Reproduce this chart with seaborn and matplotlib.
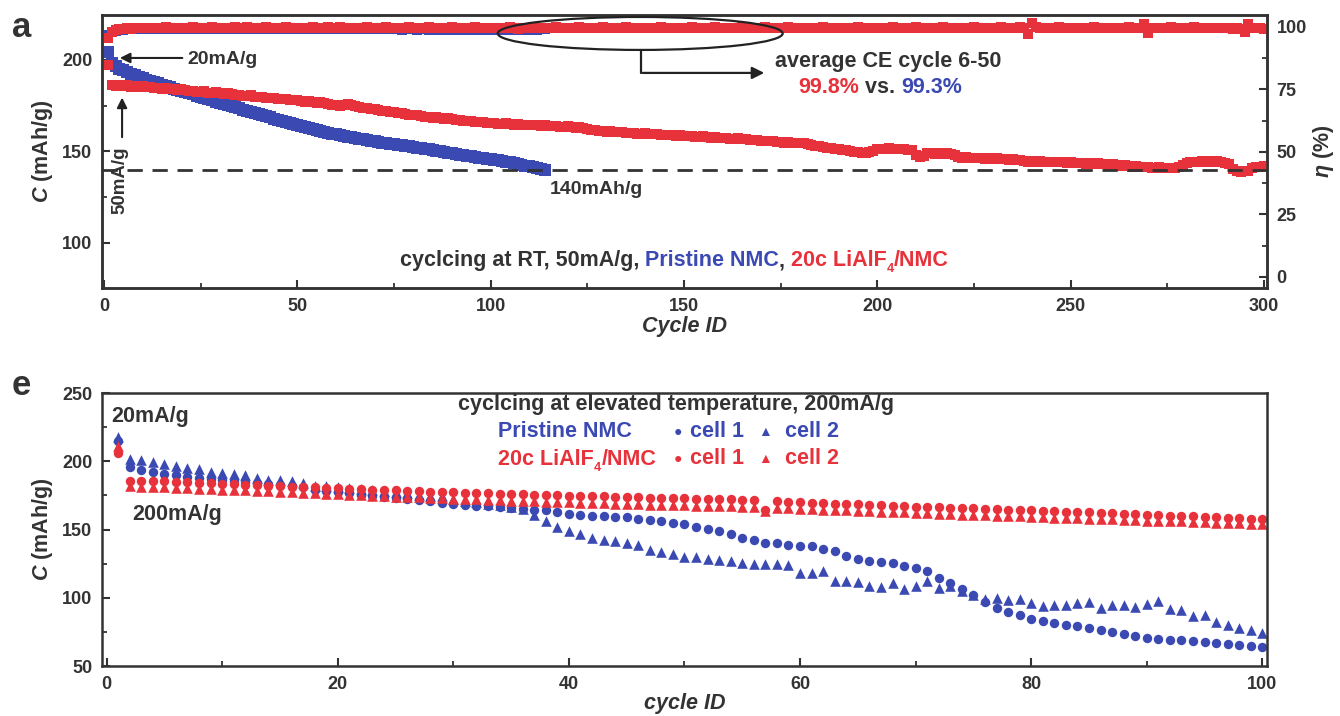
import numpy as np
import pandas as pd
import matplotlib
matplotlib.use('Agg')
import matplotlib.pyplot as plt
import seaborn as sns
from matplotlib.patches import Ellipse

# --- data ---
# panel a: capacity (mAh/g) and coulombic efficiency (%) per cycle
red_cap = [
    197.0, 186.2, 185.8, 186.4, 185.9, 186.1, 185.5, 185.9, 185.3, 185.6,
    185.0, 185.3, 184.7, 184.9, 184.4, 184.6, 184.0, 184.3, 183.7, 183.9,
    183.4, 183.0, 183.3, 182.7, 182.5, 182.8, 182.2, 182.0, 182.3, 181.7,
    181.5, 181.8, 181.2, 180.9, 181.1, 180.5, 180.3, 180.6, 180.0, 179.8,
    180.0, 179.4, 179.1, 179.3, 178.7, 178.5, 178.8, 178.2, 178.0, 178.1,
    177.6, 177.3, 177.5, 176.9, 176.7, 176.9, 176.3, 176.0, 175.6, 175.2,
    174.9, 175.5, 175.8, 175.3, 175.0, 174.4, 173.9, 173.7, 173.3, 173.0,
    172.8, 172.3, 172.0, 171.8, 171.4, 171.1, 170.9, 170.5, 170.2, 170.0,
    169.7, 169.3, 169.1, 168.8, 168.4, 168.7, 168.2, 167.9, 168.1, 167.6,
    167.3, 167.0, 166.8, 166.5, 166.7, 166.2, 165.9, 166.1, 165.6, 165.4,
    165.7, 165.2, 165.0, 165.3, 164.8, 164.6, 164.9, 164.5, 164.3, 164.6,
    164.2, 164.4, 164.0, 164.3, 164.1, 163.8, 164.0, 163.6, 163.4, 163.7,
    163.3, 163.0, 163.2, 162.8, 162.3, 161.8, 161.5, 161.2, 161.0, 160.8,
    161.0, 160.6, 160.4, 160.7, 160.2, 160.0, 160.3, 159.8, 159.6, 159.9,
    159.5, 159.3, 159.6, 159.1, 158.9, 159.2, 158.8, 158.6, 158.9, 158.5,
    158.3, 158.6, 158.1, 157.9, 158.2, 157.8, 157.6, 157.9, 157.4, 157.2,
    157.5, 157.0, 156.8, 157.1, 156.6, 156.9, 156.4, 156.2, 156.0, 155.8,
    155.9, 155.5, 155.7, 155.2, 155.4, 154.9, 155.1, 154.6, 154.8, 154.4,
    154.6, 154.1, 153.7, 153.2, 152.8, 152.4, 152.0, 151.7, 151.4, 151.1,
    150.8, 150.6, 150.2, 149.8, 149.5, 149.2, 149.0, 149.6, 150.4, 151.2,
    151.6, 151.4, 151.7, 151.3, 151.5, 151.1, 151.4, 151.0, 150.6, 148.0,
    147.2, 147.5, 148.9, 149.2, 148.8, 149.1, 148.7, 149.0, 148.5, 148.2,
    147.0, 146.6, 146.8, 146.3, 146.5, 146.2, 146.6, 146.1, 146.4, 145.9,
    146.2, 145.8, 146.0, 145.6, 145.9, 145.5, 145.2, 144.8, 144.5, 144.7,
    144.3, 144.6, 144.2, 144.5, 144.1, 144.4, 144.0, 144.3, 143.9, 144.2,
    143.8, 143.5, 143.8, 143.4, 143.7, 143.3, 143.6, 143.2, 143.0, 142.7,
    142.9, 142.5, 142.2, 142.4, 142.0, 141.7, 141.9, 141.5, 141.3, 141.6,
    141.2, 141.0, 141.3, 140.9, 141.1, 140.8, 141.0, 141.4, 142.8, 143.6,
    144.2, 144.5, 144.3, 144.6, 144.4, 144.7, 144.5, 144.8, 144.4, 143.6,
    143.4, 140.2, 139.2, 138.9, 139.3, 139.6, 141.0, 141.5, 141.3, 141.8,
]
red_ce = [
    95.5, 97.8, 98.6, 99.0, 99.2, 99.4, 99.3, 99.5, 99.6, 99.4,
    99.5, 99.7, 99.4, 99.6, 99.5, 99.8, 99.5, 99.6, 99.4, 99.7,
    99.6, 99.5, 99.8, 99.4, 99.6, 99.7, 99.5, 99.9, 99.6, 99.5,
    99.7, 99.4, 99.6, 99.8, 99.5, 99.6, 99.9, 99.5, 99.7, 99.4,
    99.6, 99.8, 99.5, 99.7, 99.6, 99.4, 99.8, 99.6, 99.5, 99.7,
    99.5, 99.7, 99.6, 99.9, 99.4, 99.6, 99.5, 99.8, 99.6, 99.5,
    99.8, 99.5, 99.6, 99.4, 99.7, 99.6, 99.5, 99.9, 99.6, 99.7,
    99.4, 99.6, 99.8, 99.5, 99.6, 99.7, 99.4, 99.6, 99.8, 99.5,
    99.6, 99.5, 99.7, 99.9, 99.5, 99.6, 99.4, 99.7, 99.6, 99.8,
    99.5, 99.6, 99.7, 99.4, 99.6, 99.8, 99.5, 99.6, 99.7, 99.5,
    99.7, 99.4, 99.6, 99.5, 99.8, 99.6, 99.0, 99.7, 99.5, 99.6,
    99.8, 99.5, 99.6, 99.7, 99.4, 99.6, 99.8, 99.5, 99.7, 99.6,
    99.5, 99.7, 99.9, 99.6, 99.4, 99.6, 99.7, 99.5, 99.8, 99.6,
    99.4, 99.6, 99.7, 99.5, 99.8, 99.6, 99.5, 99.7, 99.4, 99.6,
    99.7, 99.5, 99.6, 99.8, 99.5, 99.7, 99.6, 99.4, 99.7, 99.5,
    99.6, 99.8, 99.5, 99.6, 99.7, 99.4, 99.6, 99.9, 99.5, 99.6,
    99.7, 99.5, 99.6, 99.4, 99.8, 99.6, 99.5, 99.7, 99.6, 99.5,
    99.8, 99.6, 99.4, 99.7, 99.5, 99.6, 99.8, 99.5, 99.7, 99.6,
    99.5, 99.7, 99.6, 99.4, 99.6, 99.8, 99.5, 99.6, 99.7, 99.5,
    99.6, 99.4, 99.7, 99.5, 99.8, 99.6, 99.5, 99.7, 99.4, 99.6,
    99.7, 99.5, 99.6, 99.8, 99.5, 99.4, 99.7, 99.6, 99.5, 99.8,
    99.6, 99.5, 99.7, 99.4, 99.6, 99.5, 99.8, 99.6, 99.7, 99.5,
    99.4, 99.6, 99.7, 99.5, 99.8, 99.6, 99.5, 99.7, 99.6, 99.4,
    99.6, 99.8, 99.5, 99.7, 99.6, 99.5, 99.8, 99.6, 97.3, 101.4,
    99.8, 99.5, 99.6, 99.7, 99.4, 99.6, 99.8, 99.5, 99.6, 99.7,
    99.5, 99.6, 99.4, 99.7, 99.6, 99.8, 99.5, 99.6, 99.7, 99.5,
    99.6, 99.4, 99.7, 99.5, 99.8, 99.6, 99.5, 99.6, 101.2, 97.6,
    99.5, 99.7, 99.6, 99.4, 99.6, 99.8, 99.5, 99.7, 99.6, 99.5,
    99.6, 99.8, 99.5, 99.7, 99.4, 99.6, 99.5, 99.7, 99.6, 99.4,
    99.5, 99.3, 99.6, 99.2, 98.0, 101.3, 99.6, 99.4, 99.5, 99.3,
]
blue_cap = [
    204.5, 198.2, 196.5, 195.3, 194.3, 193.5, 192.4, 191.6, 190.7, 190.0,
    189.2, 188.6, 187.8, 187.2, 186.4, 185.7, 185.1, 184.4, 183.8, 183.1,
    182.5, 181.8, 181.2, 180.5, 179.8, 179.3, 178.6, 178.0, 177.3, 176.7,
    176.0, 175.4, 174.7, 174.1, 173.5, 172.8, 172.3, 171.6, 171.0, 170.4,
    169.8, 169.2, 168.6, 168.0, 167.3, 166.8, 166.1, 165.5, 164.8, 164.2,
    163.7, 163.1, 162.6, 162.2, 161.6, 161.2, 160.7, 160.3, 159.8, 159.4,
    159.0, 158.6, 158.1, 157.7, 157.3, 157.0, 156.6, 156.2, 155.9, 155.5,
    155.2, 154.9, 154.6, 154.3, 154.0, 153.7, 153.4, 153.0, 152.8, 152.5,
    152.1, 151.8, 151.5, 151.2, 150.8, 150.4, 150.1, 149.7, 149.3, 148.9,
    148.6, 148.2, 147.9, 147.6, 147.3, 147.0, 146.7, 146.4, 146.1, 145.8,
    145.5, 145.2, 144.8, 144.4, 144.0, 143.6, 143.2, 142.7, 142.2, 141.8,
    141.3, 140.8, 140.4, 140.1,
]
blue_ce = [
    96.8, 97.9, 98.4, 98.7, 98.9, 99.0, 99.1, 99.0, 99.2, 99.1,
    99.0, 99.2, 99.1, 99.3, 99.0, 99.2, 99.1, 99.3, 99.2, 99.0,
    99.2, 99.1, 99.3, 99.0, 99.2, 99.1, 99.2, 99.3, 99.1, 99.0,
    99.2, 99.3, 99.1, 99.2, 99.0, 99.1, 99.3, 99.2, 99.1, 99.2,
    99.0, 99.2, 99.1, 99.3, 99.2, 99.0, 99.1, 99.2, 99.3, 99.1,
    99.2, 99.0, 99.1, 99.2, 99.3, 99.1, 99.0, 99.2, 99.1, 99.3,
    99.1, 99.2, 99.0, 99.1, 99.3, 99.2, 99.0, 99.1, 99.2, 99.1,
    99.0, 99.2, 99.1, 99.0, 99.2, 99.1, 98.9, 99.1, 99.0, 99.2,
    98.9, 99.0, 99.1, 98.8, 99.0, 98.9, 99.1, 98.8, 99.0, 98.9,
    98.8, 99.0, 98.9, 98.7, 98.9, 98.8, 99.0, 98.7, 98.9, 98.8,
    98.7, 98.9, 98.8, 98.6, 98.8, 98.9, 98.7, 98.8, 98.6, 98.9,
    98.8, 98.9, 99.0, 99.1,
]

# panel e: elevated temperature, 100 cycles, two cells each
pristine_cell1 = [
    214.5, 195.8, 193.9, 192.2, 190.7, 189.8, 188.6, 187.8, 187.1, 186.6,
    185.9, 185.1, 184.2, 183.4, 182.5, 181.7, 181.0, 179.3, 178.0, 177.3,
    176.8, 175.6, 174.9, 173.9, 173.0, 172.5, 171.5, 170.8, 169.6, 168.8,
    168.0, 167.5, 167.0, 166.6, 165.8, 165.3, 164.6, 164.0, 162.6, 161.7,
    161.0, 160.2, 160.2, 159.3, 159.0, 157.8, 156.8, 156.0, 155.0, 153.7,
    152.0, 150.5, 148.8, 146.4, 144.0, 142.0, 139.8, 139.8, 138.3, 137.8,
    137.8, 135.4, 134.2, 130.5, 128.1, 127.0, 126.2, 125.2, 123.2, 122.0,
    119.6, 114.7, 111.0, 106.2, 101.8, 97.0, 92.8, 89.6, 87.2, 84.8,
    83.0, 81.8, 80.2, 79.4, 78.2, 76.5, 75.0, 73.4, 72.1, 70.2,
    69.7, 69.2, 69.0, 68.0, 67.3, 66.8, 66.0, 65.6, 64.8, 63.6,
]
pristine_cell2 = [
    218.0, 201.8, 201.0, 199.8, 198.0, 196.6, 194.9, 194.2, 192.5, 191.3,
    190.6, 189.6, 187.7, 186.5, 186.0, 185.3, 184.0, 182.1, 181.6, 181.2,
    180.4, 179.7, 178.7, 178.0, 177.3, 176.8, 175.6, 174.9, 174.3, 172.0,
    171.0, 170.0, 169.0, 168.0, 166.5, 165.0, 161.0, 156.0, 152.0, 148.8,
    146.8, 144.0, 142.0, 141.5, 140.3, 138.6, 134.9, 133.5, 131.8, 130.0,
    130.0, 128.5, 128.0, 127.0, 125.5, 125.0, 125.0, 125.0, 124.0, 118.0,
    118.0, 119.6, 112.0, 112.0, 111.5, 108.3, 108.0, 111.0, 106.2, 108.6,
    112.3, 107.4, 108.6, 105.0, 101.8, 98.9, 100.1, 98.4, 98.9, 96.0,
    94.0, 94.5, 94.5, 96.0, 97.0, 92.8, 94.5, 94.5, 93.5, 95.3,
    97.7, 91.6, 90.9, 86.3, 87.2, 82.3, 79.9, 78.2, 76.5, 74.1,
]
coated_cell1 = [
    206.0, 185.5, 185.8, 185.4, 185.2, 184.9, 184.6, 184.3, 184.0, 183.6,
    183.3, 182.9, 182.6, 182.2, 181.9, 181.5, 181.2, 180.9, 180.5, 180.2,
    179.9, 179.6, 179.3, 179.0, 178.7, 178.4, 178.1, 177.8, 177.5, 177.3,
    177.0, 176.8, 176.5, 176.3, 176.0, 175.8, 175.5, 175.3, 175.0, 174.8,
    174.6, 174.4, 174.2, 174.0, 173.8, 173.6, 173.4, 173.2, 173.0, 172.8,
    172.6, 172.4, 172.2, 172.0, 171.8, 171.6, 164.5, 170.8, 170.4, 170.0,
    169.6, 169.3, 169.0, 168.7, 168.4, 168.0, 167.7, 167.4, 167.1, 166.8,
    166.5, 166.2, 166.0, 165.7, 165.4, 165.2, 164.9, 164.6, 164.3, 164.0,
    163.7, 163.4, 163.1, 162.8, 162.5, 162.2, 161.8, 161.5, 161.2, 160.9,
    160.6, 160.2, 159.9, 159.6, 159.3, 159.0, 158.6, 158.3, 158.0, 157.6,
]
coated_cell2 = [
    211.0, 181.6, 181.4, 181.2, 180.9, 180.6, 180.3, 180.0, 179.6, 179.3,
    179.0, 178.6, 178.3, 177.9, 177.6, 177.2, 176.9, 176.5, 176.2, 175.8,
    175.5, 175.1, 174.8, 174.5, 174.1, 173.8, 173.5, 173.2, 172.9, 172.6,
    172.3, 172.0, 171.7, 171.4, 171.2, 170.9, 170.6, 170.4, 170.1, 169.9,
    169.6, 169.4, 169.2, 168.9, 168.7, 168.5, 168.3, 168.1, 167.9, 167.7,
    167.5, 167.3, 167.1, 166.9, 166.7, 166.5, 163.5, 165.8, 165.5, 165.2,
    164.9, 164.6, 164.3, 164.0, 163.7, 163.4, 163.1, 162.8, 162.5, 162.2,
    161.9, 161.6, 161.3, 161.0, 160.7, 160.4, 160.1, 159.8, 159.6, 159.3,
    159.0, 158.7, 158.5, 158.2, 157.9, 157.7, 157.4, 157.1, 156.9, 156.6,
    156.4, 156.1, 155.9, 155.6, 155.4, 155.1, 154.9, 154.6, 154.4, 154.1,
]

RED = '#e8323b'
BLUE = '#3b4ab3'
DARK = '#333333'

sns.set_theme(style='ticks')
plt.rcParams['font.family'] = ['Liberation Sans', 'DejaVu Sans']
plt.rcParams['font.weight'] = 'bold'
plt.rcParams['axes.labelweight'] = 'bold'
plt.rcParams['mathtext.fontset'] = 'custom'
plt.rcParams['mathtext.rm'] = 'Liberation Sans:bold'
plt.rcParams['mathtext.it'] = 'Liberation Sans:bold:italic'
plt.rcParams['mathtext.bf'] = 'Liberation Sans:bold'

df_red = pd.DataFrame({'cycle': np.arange(1, len(red_cap) + 1), 'cap': red_cap, 'ce': red_ce})
df_blue = pd.DataFrame({'cycle': np.arange(1, len(blue_cap) + 1), 'cap': blue_cap, 'ce': blue_ce})
df_e = pd.DataFrame({'cycle': np.arange(1, len(pristine_cell1) + 1),
                     'p1': pristine_cell1, 'p2': pristine_cell2,
                     'c1': coated_cell1, 'c2': coated_cell2})

fig = plt.figure(figsize=(13.4, 7.16), dpi=100)
ax = fig.add_axes([0.0761, 0.5978, 0.8694, 0.3813])
ax_e = fig.add_axes([0.0761, 0.0698, 0.8694, 0.3813])


def rich_text(axis, x, y, pieces, size=15.5):
    # pieces: (text, colour, y offset in points, size factor); drawn one after another on a baseline
    prev = None
    for txt, col, dy, f in pieces:
        kw = dict(textcoords='offset points', xytext=(0, dy), color=col,
                  fontsize=size * f, fontweight='bold', va='baseline', ha='left')
        if prev is None:
            prev = axis.annotate(txt, xy=(x, y), xycoords='data', **kw)
        else:
            prev = axis.annotate(txt, xy=(1, y), xycoords=(prev, 'data'), **kw)
    return prev


# ===== panel a =====
sns.scatterplot(data=df_blue, x='cycle', y='cap', ax=ax, marker='s', s=80,
                color=BLUE, linewidth=0, legend=False, zorder=3)
sns.scatterplot(data=df_red, x='cycle', y='cap', ax=ax, marker='s', s=48,
                color=RED, linewidth=0, legend=False, zorder=4)
ax.axhline(140, color=DARK, lw=2, ls=(0, (5.5, 3.5)), zorder=5)
ax.set_xlim(-0.5, 300.8)
ax.set_ylim(75.4, 224.6)
ax.set_xticks([0, 50, 100, 150, 200, 250, 300])
ax.set_xticks([25, 75, 125, 175, 225, 275], minor=True)
ax.set_yticks([100, 150, 200])
ax.set_yticks([125, 175], minor=True)
ax.set_xlabel('Cycle ID', fontsize=15.5, fontstyle='italic', color=DARK, labelpad=1)
ax.set_ylabel('$C$ (mAh/g)', fontsize=15.5, color=DARK, labelpad=5)

ax2 = ax.twinx()
sns.scatterplot(data=df_blue, x='cycle', y='ce', ax=ax2, marker='s', s=45,
                color=BLUE, linewidth=0, legend=False)
sns.scatterplot(data=df_red, x='cycle', y='ce', ax=ax2, marker='s', s=45,
                color=RED, linewidth=0, legend=False)
ax2.set_ylim(-4.5, 104.8)
ax2.set_yticks([0, 25, 50, 75, 100])
ax2.set_yticks([12.5, 37.5, 62.5, 87.5], minor=True)
ax2.set_ylabel(r'$\eta$ (%)', fontsize=15.5, color=DARK, labelpad=3)
ax2.set_xlabel('')

# ellipse and arrow pointing to the CE note
ax2.add_patch(Ellipse((138.7, 97.4), 73.7, 13.2, fill=False, ec='#222222', lw=1.6, zorder=6))
ax2.plot([139, 139], [90.8, 81.6], color='#222222', lw=1.6)
ax2.annotate('', xy=(171.5, 81.6), xytext=(138.6, 81.6),
             arrowprops=dict(arrowstyle='-|>', color='#222222', lw=1.6, mutation_scale=18))
ax.text(173.5, 196.4, 'average CE cycle 6-50', fontsize=15.5, fontweight='bold',
        color=DARK, va='baseline', ha='left')
rich_text(ax, 179.5, 182.2, [('99.8%', RED, 0, 1), (' vs. ', DARK, 0, 1), ('99.3%', BLUE, 0, 1)])

# rate annotations
ax.annotate('', xy=(3.4, 201.1), xytext=(21.0, 201.1),
            arrowprops=dict(arrowstyle='-|>', color='#222222', lw=1.5, mutation_scale=15))
ax.text(21.7, 200.0, '20mA/g', fontsize=14, fontweight='bold', color=DARK, va='center', ha='left')
ax.annotate('', xy=(4.7, 181.0), xytext=(4.7, 156.3),
            arrowprops=dict(arrowstyle='-|>', color='#222222', lw=1.5, mutation_scale=15))
ax.text(4.1, 134.4, '50mA/g', fontsize=13.5, fontweight='bold', color=DARK,
        rotation=90, va='center', ha='center')
ax.text(115.3, 129.0, '140mAh/g', fontsize=14, fontweight='bold', color=DARK, va='center', ha='left')

rich_text(ax, 76.5, 87.4, [('cyclcing at RT, 50mA/g, ', DARK, 0, 1), ('Pristine NMC', BLUE, 0, 1),
                           (', ', DARK, 0, 1), ('20c LiAlF', RED, 0, 1), ('4', RED, -4, 0.6),
                           ('/NMC', RED, 0, 1)])

# ===== panel e =====
sns.scatterplot(data=df_e, x='cycle', y='p1', ax=ax_e, marker='o', s=46,
                color=BLUE, linewidth=0, legend=False)
sns.scatterplot(data=df_e, x='cycle', y='p2', ax=ax_e, marker='^', s=58,
                color=BLUE, linewidth=0, legend=False)
sns.scatterplot(data=df_e, x='cycle', y='c1', ax=ax_e, marker='o', s=46,
                color=RED, linewidth=0, legend=False)
sns.scatterplot(data=df_e, x='cycle', y='c2', ax=ax_e, marker='^', s=58,
                color=RED, linewidth=0, legend=False)
ax_e.set_xlim(-0.4, 100.4)
ax_e.set_ylim(50, 250)
ax_e.set_xticks([0, 20, 40, 60, 80, 100])
ax_e.set_xticks([10, 30, 50, 70, 90], minor=True)
ax_e.set_yticks([50, 100, 150, 200, 250])
ax_e.set_yticks([75, 125, 175, 225], minor=True)
ax_e.set_xlabel('cycle ID', fontsize=15.5, fontstyle='italic', color=DARK, labelpad=0)
ax_e.set_ylabel('$C$ (mAh/g)', fontsize=15.5, color=DARK, labelpad=5)

ax_e.text(0.4, 232.5, '20mA/g', fontsize=15.5, fontweight='bold', color=DARK, va='center', ha='left')
ax_e.text(2.25, 161.0, '200mA/g', fontsize=15.5, fontweight='bold', color=DARK, va='center', ha='left')
ax_e.text(49.3, 241.3, 'cyclcing at elevated temperature, 200mA/g', fontsize=15.5,
          fontweight='bold', color=DARK, va='center', ha='center')
ax_e.text(33.9, 221.6, 'Pristine NMC', fontsize=15.5, fontweight='bold', color=BLUE, va='center', ha='left')
rich_text(ax_e, 33.9, 197.2, [('20c LiAlF', RED, 0, 1), ('4', RED, -4, 0.6), ('/NMC', RED, 0, 1)])
for yy, col in [(221.6, BLUE), (201.8, RED)]:
    ax_e.text(49.4, yy, '\u25cf', fontsize=10, color=col, va='center', ha='center')
    ax_e.text(50.5, yy, 'cell 1', fontsize=15.5, fontweight='bold', color=col, va='center', ha='left')
    ax_e.text(57.0, yy, '\u25b2', fontsize=10, color=col, va='center', ha='center')
    ax_e.text(58.7, yy, 'cell 2', fontsize=15.5, fontweight='bold', color=col, va='center', ha='left')

# ===== shared styling =====
for a in (ax, ax2, ax_e):
    a.grid(False)
    for sp in a.spines.values():
        sp.set_linewidth(1.8)
        sp.set_color(DARK)
    a.tick_params(which='major', direction='in', length=6, width=1.5, labelsize=13,
                  colors=DARK, pad=7)
    a.tick_params(which='minor', direction='in', length=3.5, width=1.3, colors=DARK)
for a in (ax, ax_e):
    a.tick_params(which='both', top=False, right=False)
ax2.tick_params(axis='y', which='both', left=False, right=True)

fig.text(0.009, 0.962, 'a', fontsize=25, fontweight='bold', color=DARK, va='center', ha='left')
fig.text(0.009, 0.462, 'e', fontsize=25, fontweight='bold', color=DARK, va='center', ha='left')

fig.savefig('out.png', dpi=100)
